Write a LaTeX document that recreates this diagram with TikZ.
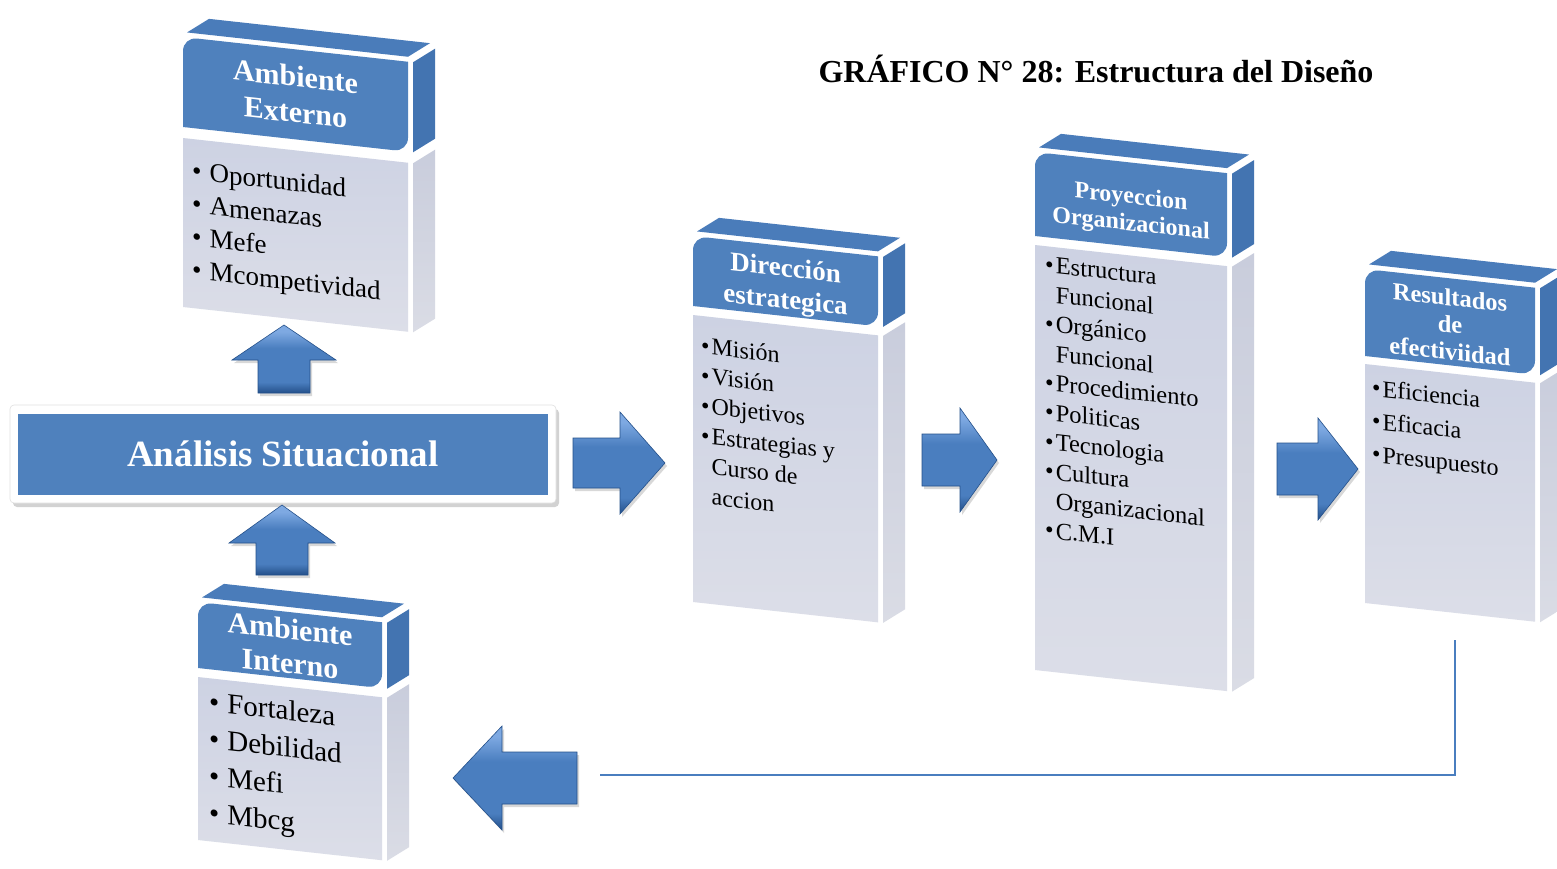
\documentclass[tikz,border=0pt]{standalone}
\usepackage{fontspec}
\setmainfont{Liberation Serif}
\usetikzlibrary{shadows}

\definecolor{hdblue}{HTML}{4F81BD}
\definecolor{sideblue}{HTML}{4374B1}
\definecolor{topblue}{HTML}{4A7CBA}
\definecolor{bodytop}{HTML}{CDD2E3}
\definecolor{bodybot}{HTML}{DCDEE8}
\definecolor{sidetop}{HTML}{C9CDDC}
\definecolor{sidebot}{HTML}{DADCE5}
\definecolor{arrlight}{HTML}{7EA9E2}
\definecolor{arrmid}{HTML}{4A7EBF}
\definecolor{arrdark}{HTML}{24508A}
\definecolor{linkblue}{HTML}{4A7EBF}

% bevelled fill for the block arrows (bottom to top; the path spans 25bp to 75bp)
\pgfdeclareverticalshading{bevel}{100bp}{color(0bp)=(arrdark); color(25bp)=(arrdark);
  color(33bp)=(arrmid); color(58bp)=(arrmid); color(70bp)=(arrlight); color(100bp)=(arrlight)}

\tikzset{
  hdtext/.style={text=white, align=center, inner sep=0pt},
  itemtext/.style={text=black, align=left, anchor=north west, inner sep=0pt},
  arrowbody/.style={shade, shading=bevel, draw=arrdark, line width=0.6pt,
    drop shadow={shadow xshift=2pt, shadow yshift=-3pt, opacity=0.3}},
  feedback/.style={draw=linkblue, line width=1.5pt},
}

\newcommand\hdfont[2]{\fontsize{#1}{#2}\selectfont\bfseries}
\newcommand\itfont[2]{\fontsize{#1}{#2}\selectfont}

% 3D slab: name, left x, top y, front width, header height, body top, body bottom
\newcommand\slab[7]{%
  \begin{scope}[shift={(#2,-#3)}, yslant=-0.11]
    \fill[topblue] (4,5) -- (#4,5) -- (#4+22,21) -- (26,21) -- cycle;
    \fill[sideblue] (#4+5,0) -- (#4+27,16) -- (#4+27,16-#5) -- (#4+5,-#5) -- cycle;
    \shade[top color=sidetop, bottom color=sidebot]
      (#4+5,-#6) -- (#4+27,16-#6) -- (#4+27,16-#7) -- (#4+5,-#7) -- cycle;
    \fill[hdblue] (0,-#5) -- (0,-14) arc[start angle=180, end angle=90, radius=14]
      -- (#4,0) -- (#4,-#5+14) arc[start angle=0, end angle=-90, radius=14] -- cycle;
    \shade[top color=bodytop, bottom color=bodybot] (0,-#6) rectangle (#4,-#7);
    \coordinate (#1-top) at (#4/2,0);
    \coordinate (#1-bottom) at (#4/2,-#7);
  \end{scope}}

% horizontal block arrow: name, shaft end x, head base x, tip x, axis y, shaft half, head half
\newcommand\harrow[7]{%
  \path[arrowbody] (#2,-#5+#6) -- (#3,-#5+#6) -- (#3,-#5+#7) -- (#4,-#5)
    -- (#3,-#5-#7) -- (#3,-#5-#6) -- (#2,-#5-#6) -- cycle;
  \coordinate (#1) at (#4,-#5);}

% vertical block arrow: name, shaft end y, head base y, tip y, axis x, shaft half, head half
\newcommand\varrow[7]{%
  \path[arrowbody] (#5-#6,-#2) -- (#5-#6,-#3) -- (#5-#7,-#3) -- (#5,-#4)
    -- (#5+#7,-#3) -- (#5+#6,-#3) -- (#5+#6,-#2) -- cycle;
  \coordinate (#1) at (#5,-#4);}

\newcommand\hang{\phantom{\textbullet}\hspace{2pt}}

\begin{document}
\begin{tikzpicture}[x=1pt, y=1pt]
\useasboundingbox (0,0) rectangle (1557,-868);
\fill[white] (0,0) rectangle (1557,-868);
\begin{scope}
\clip (0,0) rectangle (1557,-868);

% heading
\node[font=\hdfont{32}{36}] (title) at (1096,-69) {GRÁFICO N° 28: Estructura del Diseño};

% the five slabs
\slab{ext}{183}{37}{225}{90}{101}{270}
\slab{int}{198}{602}{184}{66}{75}{238}
\slab{dir}{693}{236}{185}{70}{79}{366}
\slab{pro}{1035}{152}{192}{84}{93}{518}
\slab{res}{1365}{269}{170}{87}{95}{334}

% slab texts
\begin{scope}[shift={(183,-37)}, yslant=-0.11, transform shape]
  \node[hdtext, font=\hdfont{30}{36}] (ext-title) at (112.5,-45) {Ambiente\\Externo};
  \node[itemtext, font=\itfont{27}{33}] (ext-items) at (9,-123)
    {\textbullet\hspace{8pt}Oportunidad\\\textbullet\hspace{8pt}Amenazas\\
     \textbullet\hspace{8pt}Mefe\\\textbullet\hspace{8pt}Mcompetividad};
\end{scope}
\begin{scope}[shift={(198,-602)}, yslant=-0.11, transform shape]
  \node[hdtext, font=\hdfont{30}{34}] (int-title) at (92,-34) {Ambiente\\Interno};
  \node[itemtext, font=\itfont{29}{37}] (int-items) at (11,-88)
    {\textbullet\hspace{8pt}Fortaleza\\\textbullet\hspace{8pt}Debilidad\\
     \textbullet\hspace{8pt}Mefi\\\textbullet\hspace{8pt}Mbcg};
\end{scope}
\begin{scope}[shift={(693,-236)}, yslant=-0.11, transform shape]
  \node[hdtext, font=\hdfont{27}{32}] (dir-title) at (92.5,-40) {Dirección\\estrategica};
  \node[itemtext, font=\itfont{24}{30}] (dir-items) at (8,-100)
    {\textbullet\hspace{2pt}Misión\\\textbullet\hspace{2pt}Visión\\
     \textbullet\hspace{2pt}Objetivos\\\textbullet\hspace{2pt}Estrategias y\\
     \hang Curso de\\\hang accion};
\end{scope}
\begin{scope}[shift={(1035,-152)}, yslant=-0.11, transform shape]
  \node[hdtext, font=\hdfont{24}{27}] (pro-title) at (96,-49) {Proyeccion\\Organizacional};
  \node[itemtext, font=\itfont{24.5}{29.5}] (pro-items) at (10,-103)
    {\textbullet\hspace{2pt}Estructura\\\hang Funcional\\
     \textbullet\hspace{2pt}Orgánico\\\hang Funcional\\
     \textbullet\hspace{2pt}Procedimiento\\\textbullet\hspace{2pt}Politicas\\
     \textbullet\hspace{2pt}Tecnologia\\\textbullet\hspace{2pt}Cultura\\
     \hang Organizacional\\\textbullet\hspace{2pt}C.M.I};
\end{scope}
\begin{scope}[shift={(1365,-269)}, yslant=-0.11, transform shape]
  \node[hdtext, font=\hdfont{24.5}{27}] (res-title) at (85,-46) {Resultados\\de\\efectiviidad};
  \node[itemtext, font=\itfont{24}{33}] (res-items) at (7,-109)
    {\textbullet\hspace{2pt}Eficiencia\\\textbullet\hspace{2pt}Eficacia\\
     \textbullet\hspace{2pt}Presupuesto};
\end{scope}

% central box
\node[fill=white, draw=black!12, line width=0.6pt, rounded corners=4pt,
      minimum width=546pt, minimum height=98pt,
      drop shadow={shadow xshift=3pt, shadow yshift=-4pt, opacity=0.35}] (ana-frame) at (283,-454) {};
\node[fill=hdblue, minimum width=530pt, minimum height=81pt, text=white,
      font=\hdfont{37}{40}] (ana) at (ana-frame.center) {Análisis Situacional};

% block arrows
\varrow{up-ext}{393}{360}{325}{284}{26}{52}
\varrow{up-int}{575}{543}{505}{282}{26}{53}
\harrow{to-dir}{573}{620}{665}{463}{25}{51}
\harrow{to-pro}{922}{960}{997}{460}{26}{52}
\harrow{to-res}{1277}{1318}{1358}{469}{26}{51}
\harrow{to-int}{577}{502}{453}{778}{26}{52}

% feedback line from the results back to the internal environment
\coordinate (fb-start) at (1455,-640);
\coordinate (fb-end) at (600,-775);
\draw[feedback] (fb-start) |- (fb-end);
\end{scope}
\end{tikzpicture}
\end{document}
